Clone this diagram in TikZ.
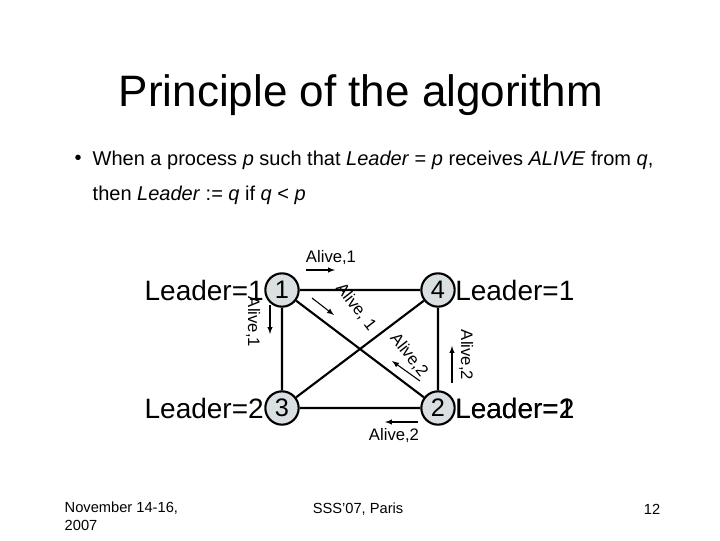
\documentclass[tikz,border=0pt]{standalone}
\usepackage{fontspec}
\setmainfont{Liberation Sans}
\begin{document}
\begin{tikzpicture}[x=0.75pt,y=-0.75pt,
  proc/.style={circle,draw,line width=1.6pt,fill=cyan!12!gray!30,minimum size=25pt,inner sep=0pt,font=\fontsize{19}{22}\selectfont},
  edge/.style={line width=1.6pt},
  lbl/.style={font=\fontsize{12.5}{14}\selectfont,inner sep=0pt},
  ldr/.style={font=\fontsize{21}{24}\selectfont,inner sep=0pt},
  msg/.style={-latex,line width=0.8pt}]
\useasboundingbox (0,0) rectangle (720,540);
\node (title) at (361,95) {\fontsize{33}{38}\selectfont Principle of the algorithm};
\node (bul) at (78,160) {\fontsize{15}{17}\selectfont •};
\node[anchor=west] (l1) at (88,160) {\fontsize{15}{17}\selectfont When a process \textit{p} such that \textit{Leader} = \textit{p} receives \textit{ALIVE} from \textit{q},};
\node[anchor=west] (l2) at (88,195) {\fontsize{15}{17}\selectfont then \textit{Leader} := \textit{q} if \textit{q} < \textit{p}};
\node[proc] (n1) at (282,290) {1};
\node[proc] (n4) at (438,290) {4};
\node[proc] (n3) at (282,408) {3};
\node[proc] (n2) at (438,408) {2};
\draw[edge] (n1)--(n4) (n1)--(n3) (n1)--(n2) (n4)--(n3) (n4)--(n2) (n3)--(n2);
\node[ldr,anchor=east] (L1) at (264,290) {Leader=1};
\node[ldr,anchor=west] (L4) at (455,290) {Leader=1};
\node[ldr,anchor=east] (L3) at (264,408) {Leader=2};
\node[ldr,anchor=west] (L2a) at (455,408) {Leader=1};
\node[ldr,anchor=west] (L2b) at (455,408) {Leader=2};
\node[lbl] (a1) at (331,258) {Alive,1};
\coordinate (a1s) at (306,270); \coordinate (a1e) at (335,270);
\draw[msg] (a1s)--(a1e);
\node[lbl,rotate=-90] (a2) at (253,322) {Alive,1};
\coordinate (a2s) at (270,305); \coordinate (a2e) at (270,334);
\draw[msg] (a2s)--(a2e);
\node[lbl,rotate=-52] (a3) at (356,307) {Alive, 1};
\coordinate (a3s) at (312,298); \coordinate (a3e) at (334,315);
\draw[msg] (a3s)--(a3e);
\node[lbl,rotate=-52] (a4) at (409,355) {Alive,2};
\coordinate (a4s) at (420,381); \coordinate (a4e) at (392,361);
\draw[msg] (a4s)--(a4e);
\node[lbl,rotate=-90] (a5) at (466,355) {Alive,2};
\coordinate (a5s) at (452,383); \coordinate (a5e) at (452,346);
\draw[msg] (a5s)--(a5e);
\node[lbl] (a6) at (394,436) {Alive,2};
\coordinate (a6s) at (418,422); \coordinate (a6e) at (385,422);
\draw[msg] (a6s)--(a6e);
\node[anchor=north west,align=left,font=\fontsize{11}{13.5}\selectfont] (f1) at (60,497) {November 14-16,\\2007};
\node[font=\fontsize{11}{13}\selectfont] (f2) at (358,509) {SSS'07, Paris};
\node[font=\fontsize{11}{13}\selectfont] (f3) at (652,509) {12};
\end{tikzpicture}
\end{document}
